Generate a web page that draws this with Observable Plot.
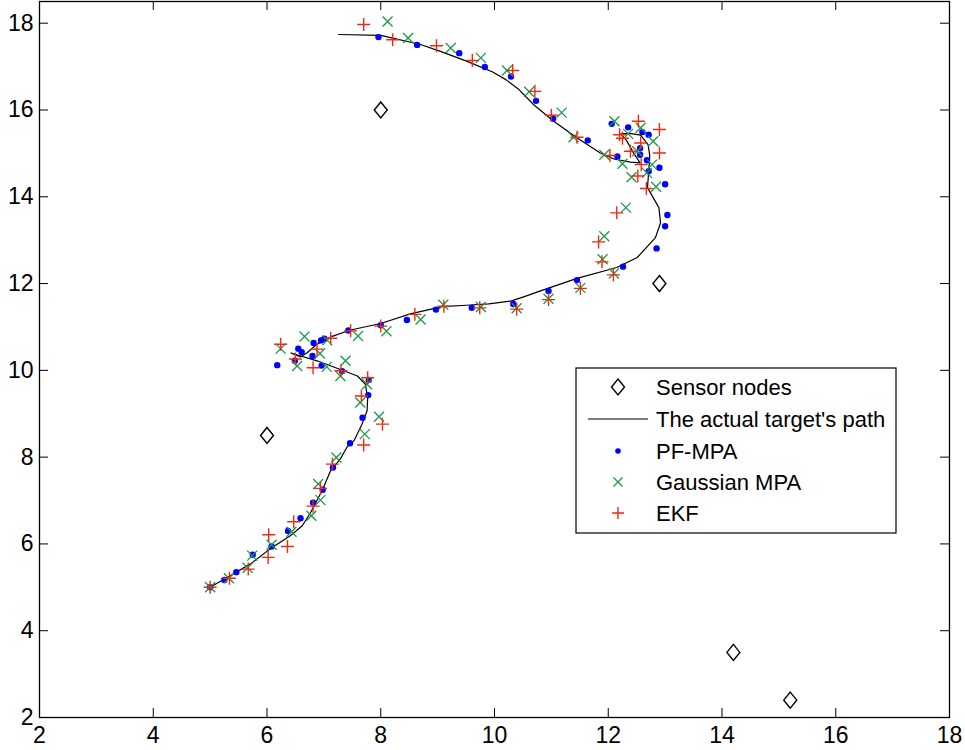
<!DOCTYPE html>
<html>
<head>
<meta charset="utf-8">
<script src="https://cdn.jsdelivr.net/npm/d3@7"></script>
<script src="https://cdn.jsdelivr.net/npm/@observablehq/plot@0.6"></script>
<style>
  html, body { margin: 0; padding: 0; background: white; }
</style>
</head>
<body>
<div id="chart"></div>
<script>
// ---- Data ----
const sensorX = [8, 12.9, 6, 14.2, 15.2];
const sensorY = [16, 12, 8.5, 3.5, 2.4];

const pathX = [7.26, 8.0, 8.7, 9.05, 9.52, 9.96, 10.2, 10.43, 10.69, 11.04, 11.45, 11.86, 12.1, 12.39, 12.56,
  12.45, 12.32, 12.22, 12.38, 12.57, 12.7, 12.73, 12.72, 12.69, 12.89, 12.92, 12.83, 12.51, 12.15,
  11.45, 10.81, 10.55, 10.3, 9.9, 9.5, 9.08, 8.52, 8.0, 7.47, 7.12, 6.88, 6.71, 6.59, 6.42, 6.88,
  7.29, 7.59, 7.73, 7.77, 7.76, 7.67, 7.53, 7.41, 7.29, 7.12, 6.97, 6.77, 6.62, 6.41, 6.09, 5.71, 5.36, 5.0];
const pathY = [17.74, 17.72, 17.51, 17.35, 17.12, 16.88, 16.7, 16.47, 16.12, 15.74, 15.36, 15.01, 14.87, 14.8, 14.78,
  15.0, 15.3, 15.45, 15.46, 15.42, 15.2, 14.95, 14.75, 14.21, 13.75, 13.4, 13.06, 12.6, 12.37,
  12.12, 11.83, 11.71, 11.6, 11.53, 11.5, 11.47, 11.3, 11.08, 10.93, 10.77, 10.6, 10.41, 10.31, 10.4, 10.22,
  10.02, 9.87, 9.68, 9.37, 9.07, 8.76, 8.38, 8.24, 7.96, 7.69, 7.23, 6.73, 6.42, 6.19, 5.92, 5.54, 5.27, 5.0];

const pfX = [7.96, 8.64, 9.38, 9.83, 10.29, 10.73, 11.03, 11.64, 12.16, 12.06, 12.35, 12.6, 12.71, 12.56, 12.56,
  12.68, 12.71, 12.9, 13.0, 13.04, 13.0, 12.85, 12.26, 11.45, 10.95, 10.33, 9.6,
  8.97, 8.46, 8.0, 7.43, 7.01, 6.95, 6.82, 6.55, 6.61, 6.8, 6.49, 6.18, 6.96, 7.32, 7.79, 7.78, 7.68, 7.46,
  7.16, 6.98, 6.81, 6.59, 6.37, 6.08, 5.75, 5.46, 5.25, 5.0];
const pfY = [17.68, 17.5, 17.31, 16.99, 16.77, 16.21, 15.8, 15.3, 14.93, 15.68, 15.6, 15.49, 15.43, 14.97, 15.12,
  14.84, 14.59, 14.67, 14.29, 13.58, 13.32, 12.81, 12.39, 12.08, 11.83, 11.53, 11.44,
  11.4, 11.16, 11.04, 10.92, 10.73, 10.69, 10.63, 10.5, 10.42, 10.33, 10.22, 10.12, 10.11, 9.98, 9.78, 9.43, 8.91, 8.32,
  7.76, 7.25, 6.95, 6.59, 6.3, 5.94, 5.75, 5.35, 5.17, 5.0];

const gX = [8.12, 8.48, 9.23, 9.76, 10.22, 10.61, 11.18, 11.39, 11.93, 12.25, 12.11, 12.35, 12.57, 12.79, 12.51,
  12.77, 12.41, 12.68, 12.84, 12.31, 11.93, 11.9, 12.1, 11.51, 10.95, 10.39, 9.76,
  9.1, 8.7, 8.1, 7.6, 7.06, 6.66, 6.24, 6.93, 6.53, 7.05, 7.38, 7.29, 7.76, 7.64, 7.97, 7.72, 7.22,
  6.9, 6.94, 6.78, 6.43, 6.08, 5.74, 5.66, 5.33, 5.0];
const gY = [18.04, 17.66, 17.43, 17.2, 16.91, 16.42, 15.94, 15.37, 14.97, 14.76, 15.74, 15.45, 15.59, 15.28, 15.05,
  14.74, 14.45, 14.55, 14.23, 13.75, 13.09, 12.56, 12.23, 11.9, 11.65, 11.43, 11.46,
  11.51, 11.17, 10.9, 10.79, 10.69, 10.78, 10.5, 10.39, 10.1, 10.08, 10.22, 9.87, 9.68, 9.26, 8.93, 8.53, 7.99,
  7.38, 7.01, 6.65, 6.28, 5.98, 5.73, 5.45, 5.21, 5.0];

const ekfX = [7.7, 8.21, 8.98, 9.61, 10.32, 10.71, 11.0, 11.45, 12.03, 12.2, 12.25, 12.53, 12.9, 12.57, 12.39,
  12.9, 12.58, 12.52, 12.67, 12.15, 11.83, 11.89, 12.09, 11.51, 10.95, 10.39, 9.74,
  9.11, 8.6, 8.0, 7.47, 7.12, 6.24, 6.88, 6.5, 6.81, 7.3, 7.77, 7.66, 8.03, 7.7,
  7.15, 6.94, 6.81, 6.47, 6.36, 6.03, 6.02, 5.67, 5.34, 5.0];
const ekfY = [17.97, 17.62, 17.48, 17.14, 16.91, 16.43, 15.88, 15.37, 14.95, 15.43, 15.35, 15.74, 15.55, 15.24, 15.05,
  15.01, 14.74, 14.48, 14.19, 13.63, 12.96, 12.5, 12.2, 11.89, 11.63, 11.41, 11.44,
  11.48, 11.29, 11.02, 10.91, 10.74, 10.6, 10.49, 10.26, 10.06, 9.99, 9.83, 9.41, 8.76, 8.28,
  7.84, 7.28, 6.87, 6.51, 5.94, 6.21, 5.69, 5.42, 5.21, 5.0];

const xTicks = [2, 4, 6, 8, 10, 12, 14, 16, 18];
const yTicks = [2, 4, 6, 8, 10, 12, 14, 16, 18];

const legendLabels = ["Sensor nodes", "The actual target's path", "PF-MPA", "Gaussian MPA", "EKF"];

// ---- Build tables ----
const zip = (xs, ys) => xs.map((x, i) => ({x, y: ys[i]}));
const sensors = zip(sensorX, sensorY);
const path = zip(pathX, pathY);
const pf = zip(pfX, pfY);
const gauss = zip(gX, gY);
const ekf = zip(ekfX, ekfY);

// ---- Custom symbols ----
const diamondSym = {draw(ctx) { ctx.moveTo(0, -8); ctx.lineTo(6.5, 0); ctx.lineTo(0, 8); ctx.lineTo(-6.5, 0); ctx.closePath(); }};
const xSym = {draw(ctx) { const h = 5; ctx.moveTo(-h, -h); ctx.lineTo(h, h); ctx.moveTo(h, -h); ctx.lineTo(-h, h); }};
const plusSym = {draw(ctx) { const h = 6.5; ctx.moveTo(-h, 0); ctx.lineTo(h, 0); ctx.moveTo(0, -h); ctx.lineTo(0, h); }};

const W = 965, H = 750;
const mT = 1, mB = 33, mL = 39, mR = 16;
const plotH = H - mT - mB;
const plotW = W - mL - mR;
const TICK = 9;

const BLUE = "#0000ff", GREEN = "#1a9a48", RED = "#f02a10";

const svg = Plot.plot({
  width: W, height: H,
  marginTop: mT, marginBottom: mB, marginLeft: mL, marginRight: mR,
  x: {domain: [2, 18], label: null},
  y: {domain: [2, 18.5], label: null},
  style: {fontFamily: "'Liberation Sans', Arial, sans-serif", fontSize: "23px", background: "white", color: "black"},
  marks: [
    Plot.axisX(xTicks, {tickSize: 0, tickPadding: 9, fontSize: 23}),
    Plot.axisY(yTicks, {tickSize: 0, tickPadding: 6, fontSize: 23}),
    // inward ticks: bottom, top, left, right
    Plot.ruleX(xTicks, {x: d => d, insetTop: plotH - TICK, stroke: "black", strokeWidth: 1}),
    Plot.ruleX(xTicks, {x: d => d, insetBottom: plotH - TICK, stroke: "black", strokeWidth: 1}),
    Plot.ruleY(yTicks, {y: d => d, insetRight: plotW - TICK, stroke: "black", strokeWidth: 1}),
    Plot.ruleY(yTicks, {y: d => d, insetLeft: plotW - TICK, stroke: "black", strokeWidth: 1}),
    Plot.frame({stroke: "black", strokeWidth: 1.3}),
    Plot.line(path, {x: "x", y: "y", stroke: "black", strokeWidth: 1.2}),
    Plot.dot(sensors, {x: "x", y: "y", symbol: diamondSym, stroke: "black", fill: "none", strokeWidth: 1.4}),
    Plot.dot(pf, {x: "x", y: "y", r: 3.2, fill: BLUE, stroke: "none"}),
    Plot.dot(gauss, {x: "x", y: "y", symbol: xSym, stroke: GREEN, fill: "none", strokeWidth: 1.3}),
    Plot.dot(ekf, {x: "x", y: "y", symbol: plusSym, stroke: RED, fill: "none", strokeWidth: 1.4})
  ]
});

// ---- Legend (drawn inside the plot area, like the original) ----
const g = d3.select(svg).append("g")
  .attr("font-family", "'Liberation Sans', Arial, sans-serif")
  .attr("font-size", 22)
  .attr("text-anchor", "start");
const bx = 576, by = 368, bw = 320, bh = 165;
g.append("rect").attr("x", bx).attr("y", by).attr("width", bw).attr("height", bh)
  .attr("fill", "white").attr("stroke", "black").attr("stroke-width", 1.2);
const rowY = [387, 419, 451, 482, 513];
const symX = 618, textX = 656;
legendLabels.forEach((lab, i) => {
  g.append("text").attr("x", textX).attr("y", rowY[i]).attr("dy", "0.35em")
    .attr("text-anchor", "start").attr("fill", "black").text(lab);
});
g.append("path").attr("transform", `translate(${symX},${rowY[0]})`).attr("d", "M0,-8L6.5,0L0,8L-6.5,0Z")
  .attr("fill", "none").attr("stroke", "black").attr("stroke-width", 1.4);
g.append("line").attr("x1", 588).attr("x2", 648).attr("y1", rowY[1]).attr("y2", rowY[1]).attr("stroke", "black").attr("stroke-width", 1.2);
g.append("circle").attr("cx", symX).attr("cy", rowY[2]).attr("r", 2.8).attr("fill", BLUE);
g.append("path").attr("transform", `translate(${symX},${rowY[3]})`).attr("d", "M-4.5,-4.5L4.5,4.5M4.5,-4.5L-4.5,4.5")
  .attr("stroke", GREEN).attr("stroke-width", 1.3);
g.append("path").attr("transform", `translate(${symX},${rowY[4]})`).attr("d", "M-6,0L6,0M0,-6L0,6")
  .attr("stroke", RED).attr("stroke-width", 1.4);

document.getElementById("chart").appendChild(svg);
</script>
</body>
</html>
